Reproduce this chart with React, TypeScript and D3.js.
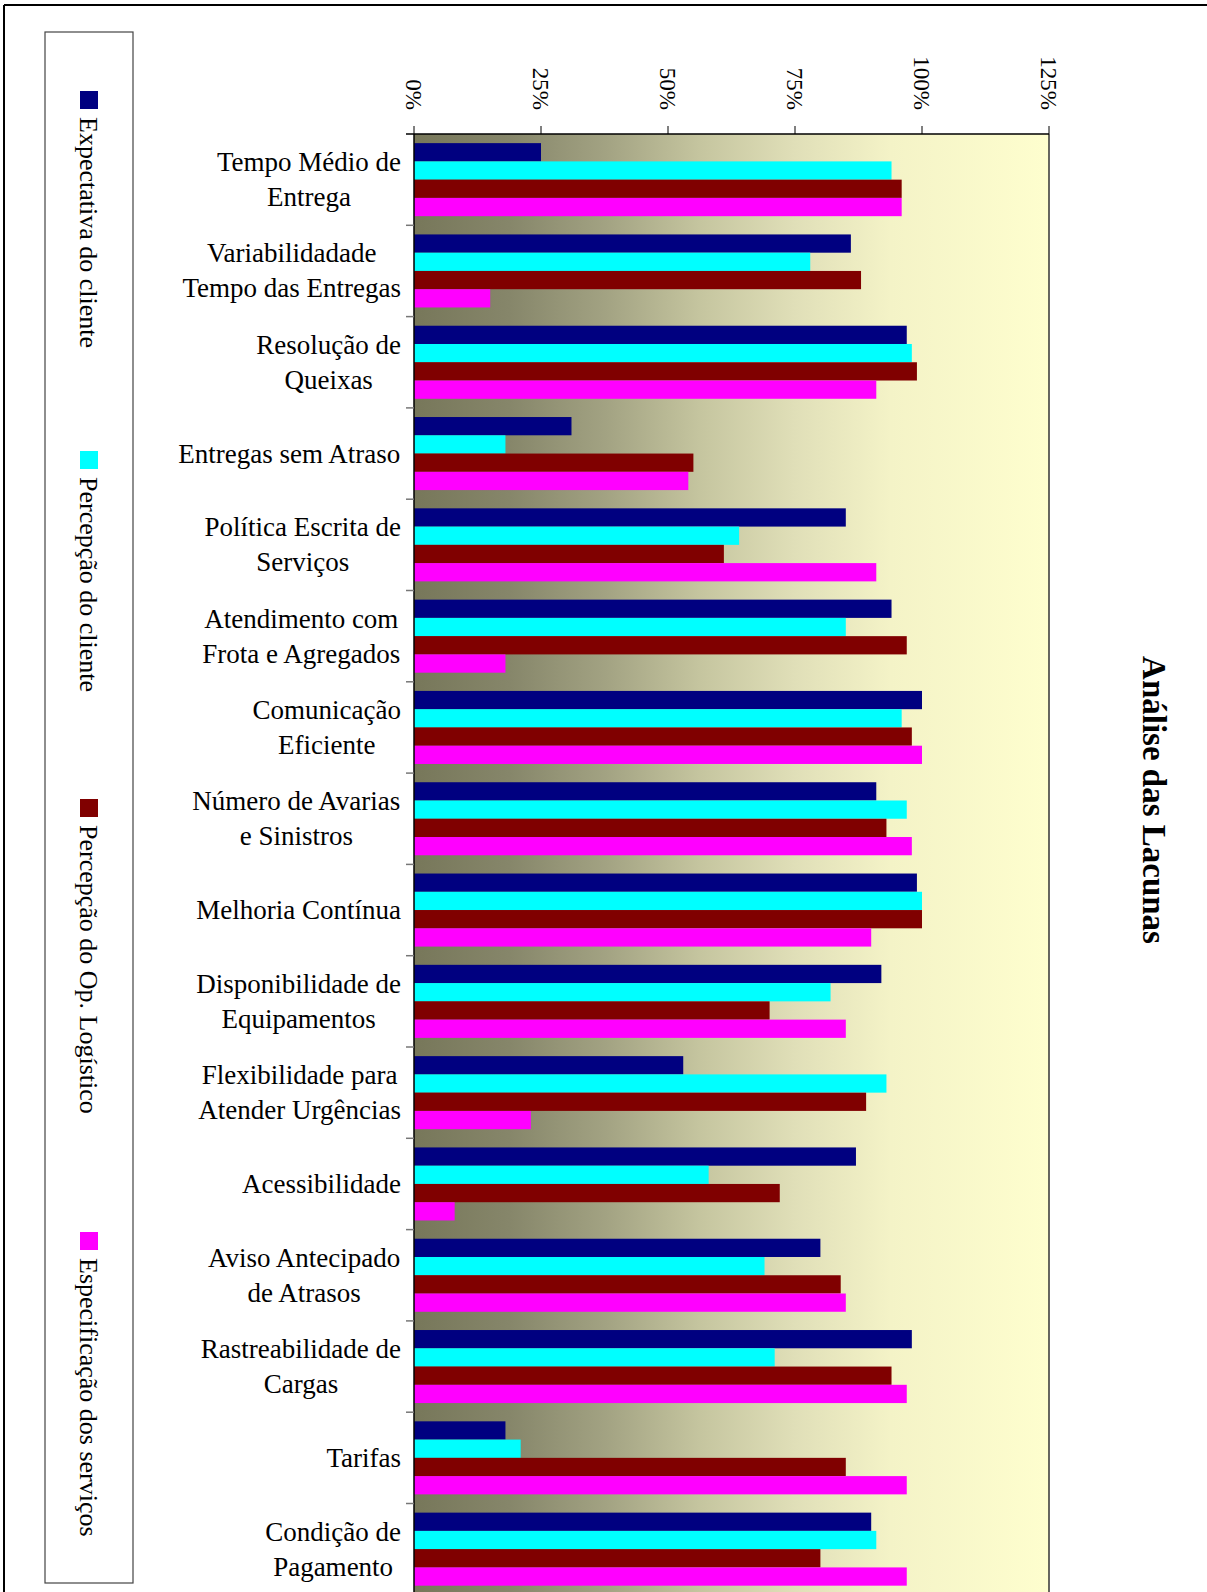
import React from "react";
import * as d3 from "d3";

const categories: string[][] = [
  ["Tempo Médio de", "Entrega"],
  ["Variabilidadade", "Tempo das Entregas"],
  ["Resolução de", "Queixas"],
  ["Entregas sem Atraso"],
  ["Política Escrita de", "Serviços"],
  ["Atendimento com", "Frota e Agregados"],
  ["Comunicação", "Eficiente"],
  ["Número de Avarias", "e Sinistros"],
  ["Melhoria Contínua"],
  ["Disponibilidade de", "Equipamentos"],
  ["Flexibilidade para", "Atender Urgências"],
  ["Acessibilidade"],
  ["Aviso Antecipado", "de Atrasos"],
  ["Rastreabilidade de", "Cargas"],
  ["Tarifas"],
  ["Condição de", "Pagamento"],
];

const seriesNames = [
  "Expectativa do cliente",
  "Percepção do cliente",
  "Percepção do Op. Logístico",
  "Especificação dos serviços",
];
const seriesColors = ["#000080", "#00FFFF", "#800000", "#FF00FF"];

const expectativaCliente = [25, 86, 97, 31, 85, 94, 100, 91, 99, 92, 53, 87, 80, 98, 18, 90];
const percepcaoCliente = [94, 78, 98, 18, 64, 85, 96, 97, 100, 82, 93, 58, 69, 71, 21, 91];
const percepcaoOpLogistico = [96, 88, 99, 55, 61, 97, 98, 93, 100, 70, 89, 72, 84, 94, 85, 80];
const especificacaoServicos = [96, 15, 91, 54, 91, 18, 100, 98, 90, 85, 23, 8, 85, 97, 97, 97];

const seriesValues = [expectativaCliente, percepcaoCliente, percepcaoOpLogistico, especificacaoServicos];

const tickValues = [0, 0.25, 0.5, 0.75, 1, 1.25];
const title = "Análise das Lacunas";

const SERIF = "'Times New Roman', 'Liberation Serif', serif";

// legend marker top positions (layout)
const legendMarkerY = [91, 451, 799, 1232];

let _ctx: CanvasRenderingContext2D | null = null;
function measure(text: string, size: number, weight = "normal"): number {
  if (!_ctx) {
    const c = document.createElement("canvas");
    _ctx = c.getContext("2d");
  }
  if (!_ctx) return text.length * size * 0.45;
  _ctx.font = `${weight} ${size}px 'Liberation Serif', serif`;
  return _ctx.measureText(text).width;
}

export default function App() {
  const W = 1207;
  const H = 1592;
  const plotLeft = 414;
  const plotRight = 1049;
  const plotTop = 134;
  const step = 91.3;
  const plotBottom = plotTop + step * categories.length;

  const x = d3.scaleLinear().domain([0, 1.25]).range([plotLeft, plotRight]);
  const idx = categories.map((_, i) => String(i));
  const y = d3.scaleBand<string>().domain(idx).range([plotTop, plotBottom]).paddingInner(0).paddingOuter(0);
  const ySub = d3
    .scaleBand<string>()
    .domain(seriesNames)
    .range([0, y.bandwidth()])
    .paddingInner(0)
    .paddingOuter(0.5);
  const fmt = d3.format(".0%");

  const catFont = 27;
  const labelRight = 401;
  const lineH = 35;

  const legFont = 26;

  return (
    <svg
      width={W}
      height={H}
      style={{ position: "absolute", left: 0, top: 0, background: "#fff" }}
      fontFamily={SERIF}
    >
      <defs>
        <linearGradient id="bg" x1="0" y1="0" x2="1" y2="0">
          <stop offset="0" stopColor="#77775a" />
          <stop offset="0.15" stopColor="#86866a" />
          <stop offset="0.3" stopColor="#a2a282" />
          <stop offset="0.45" stopColor="#c5c59f" />
          <stop offset="0.6" stopColor="#e0dfb8" />
          <stop offset="0.75" stopColor="#f4f3c7" />
          <stop offset="1" stopColor="#fefece" />
        </linearGradient>
      </defs>

      {/* chart area border (top & left) */}
      <line x1={4} y1={5} x2={W} y2={5} stroke="#000" strokeWidth={2} />
      <line x1={4} y1={5} x2={4} y2={H} stroke="#000" strokeWidth={2} />

      {/* plot area background */}
      <rect x={plotLeft} y={plotTop} width={plotRight - plotLeft} height={plotBottom - plotTop} fill="url(#bg)" />

      {/* bars */}
      {seriesValues.map((vals, si) => (
        <g key={si} fill={seriesColors[si]}>
          {vals.map((v, ci) => (
            <rect
              key={ci}
              x={x(0)}
              y={(y(String(ci)) ?? 0) + (ySub(seriesNames[si]) ?? 0)}
              width={x(v / 100) - x(0)}
              height={ySub.bandwidth()}
            />
          ))}
        </g>
      ))}

      {/* plot border right */}
      <line x1={plotRight} y1={plotTop} x2={plotRight} y2={plotBottom} stroke="#333" strokeWidth={1.5} />

      {/* value axis (top) */}
      <line x1={plotLeft - 8} y1={plotTop} x2={plotRight} y2={plotTop} stroke="#000" strokeWidth={1.5} />
      {tickValues.map((t) => (
        <g key={t}>
          <line x1={x(t)} y1={plotTop - 8} x2={x(t)} y2={plotTop} stroke="#000" strokeWidth={1} />
          <text
            transform={`translate(${x(t) - 8},110) rotate(90)`}
            textAnchor="end"
            fontSize={23}
            fill="#000"
          >
            {fmt(t)}
          </text>
        </g>
      ))}

      {/* category axis (left) */}
      <line x1={plotLeft} y1={plotTop} x2={plotLeft} y2={plotBottom} stroke="#000" strokeWidth={1.5} />
      {categories.map((_, i) => (
        <line
          key={i}
          x1={plotLeft - 8}
          y1={(y(String(i)) ?? 0) + y.bandwidth()}
          x2={plotLeft}
          y2={(y(String(i)) ?? 0) + y.bandwidth()}
          stroke="#777"
          strokeWidth={1.5}
        />
      ))}
      {categories.map((lines, i) => {
        const cy = (y(String(i)) ?? 0) + y.bandwidth() / 2;
        const maxW = Math.max(...lines.map((l) => measure(l, catFont)));
        const cx = labelRight - maxW / 2;
        const first = cy - ((lines.length - 1) * lineH) / 2 + 9;
        return (
          <text key={i} textAnchor="middle" fontSize={catFont} fill="#000">
            {lines.map((l, j) => (
              <tspan key={j} x={cx} y={first + j * lineH}>
                {l}
              </tspan>
            ))}
          </text>
        );
      })}

      {/* title */}
      <text
        transform={`translate(1143,800) rotate(90)`}
        textAnchor="middle"
        fontSize={33}
        fontWeight="bold"
        fill="#000"
      >
        {title}
      </text>

      {/* legend */}
      <rect x={45} y={32} width={88} height={1551} fill="#fff" stroke="#444" strokeWidth={1.2} />
      {seriesNames.map((n, i) => (
        <g key={n}>
          <rect x={80} y={legendMarkerY[i]} width={18} height={18} fill={seriesColors[i]} />
          <text transform={`translate(80,${legendMarkerY[i] + 26}) rotate(90)`} fontSize={legFont} fill="#000">
            {n}
          </text>
        </g>
      ))}
    </svg>
  );
}
